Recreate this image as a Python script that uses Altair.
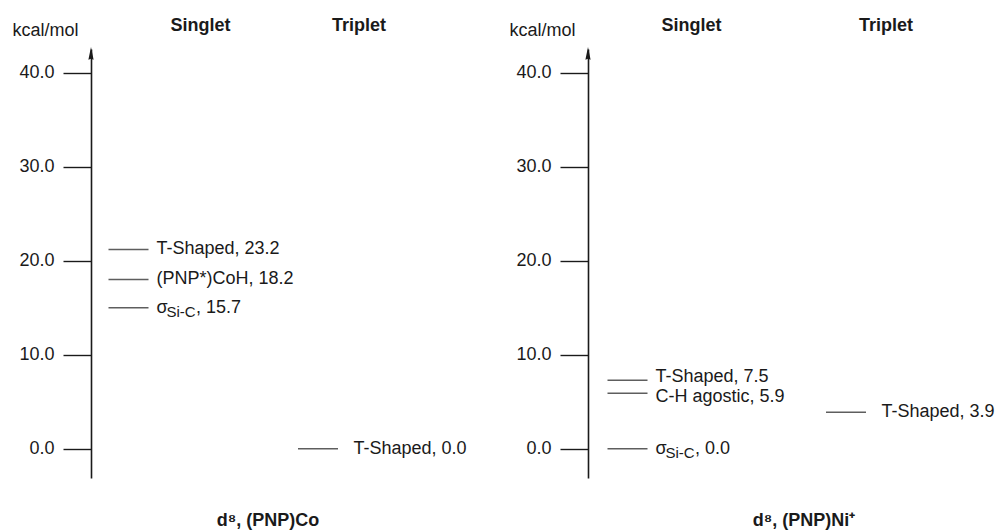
import altair as alt
import pandas as pd

# ---------------- data ----------------
states = ["Singlet", "Triplet"]
y_ticks = [0, 10, 20, 30, 40]

# (PNP)Co panel: drawn level heights (kcal/mol) and their labels
co_state = ["Singlet", "Singlet", "Singlet", "Triplet"]
co_energy = [21.2, 18.0, 15.0, 0.0]
co_name = ["\u00a0T-Shaped, 23.2", "(PNP*)CoH, 18.2", "σ", "T-Shaped, 0.0"]
co_sub = ["", "", "Si-C", ""]
co_tail = ["", "", ", 15.7", ""]

# (PNP)Ni+ panel
ni_state = ["Singlet", "Singlet", "Singlet", "Triplet"]
ni_energy = [7.3, 5.9, 0.0, 3.9]
ni_name = ["T-Shaped, 7.5", "C-H agostic, 5.9", "σ", "T-Shaped, 3.9"]
ni_sub = ["", "", "Si-C", ""]
ni_tail = ["", "", ", 0.0", ""]

panel_titles = ["d⁸, (PNP)Co", "d⁸, (PNP)Ni⁺"]
unit_label = "kcal/mol"

# ---------------- style ----------------
FONT = "Liberation Sans"
INK = "#1a1a1a"
FS = 18
Y_DOMAIN = [-3.1, 42.5]
H = 429
# small vertical nudges of crowded labels (pixels)
LABEL_NUDGE = {"T-Shaped, 7.5": -3, "C-H agostic, 5.9": 4}


def panel(state, energy, name, sub, tail, title, xrange, width, title_dx, hdr_dx):
    df = pd.DataFrame({"state": state, "energy": energy, "name": name,
                       "sub": sub, "tail": tail})
    x = alt.X("state:N",
              scale=alt.Scale(type="point", domain=states, range=xrange, padding=0),
              axis=None)
    y = alt.Y("energy:Q",
              scale=alt.Scale(domain=Y_DOMAIN, nice=False, zero=False),
              axis=alt.Axis(values=y_ticks, format=".1f", grid=False,
                            domainColor=INK, domainWidth=1.6,
                            tickColor=INK, tickWidth=1.4, tickSize=28,
                            labelPadding=9, labelFont=FONT, labelFontSize=FS,
                            labelColor=INK,
                            title=unit_label, titleAngle=0, titleX=-79, titleY=-14,
                            titleAlign="left", titleBaseline="alphabetic",
                            titleFont=FONT, titleFontSize=FS,
                            titleFontWeight="normal", titleColor=INK))
    base = alt.Chart(df)
    lines = base.mark_tick(orient="horizontal", size=40, thickness=1.5,
                           color=INK).encode(x=x, y=y)
    layers = [lines]
    nudged = list(LABEL_NUDGE.keys())
    txt = dict(font=FONT, color=INK, baseline="middle", align="left")
    for st, dx in (("Singlet", 28), ("Triplet", 35.5)):
        part = base.transform_filter(alt.datum.state == st)
        plain = part.transform_filter(~alt.FieldOneOfPredicate(field="name", oneOf=nudged))
        layers.append(plain.mark_text(dx=dx, fontSize=FS, **txt)
                      .encode(x=x, y=y, text="name:N"))
        for nm, ndy in LABEL_NUDGE.items():
            layers.append(part.transform_filter(alt.datum.name == nm)
                          .mark_text(dx=dx, dy=ndy, fontSize=FS, **txt)
                          .encode(x=x, y=y, text="name:N"))
        layers.append(part.mark_text(dx=dx + 10, dy=4, fontSize=15, **txt)
                      .encode(x=x, y=y, text="sub:N"))
        layers.append(part.mark_text(dx=dx + 39.5, fontSize=FS, **txt)
                      .encode(x=x, y=y, text="tail:N"))
    hdr = alt.Chart(pd.DataFrame({"state": states}))
    for st, dx in zip(states, hdr_dx):
        layers.append(hdr.transform_filter(alt.datum.state == st)
                      .mark_text(dx=dx, font=FONT, fontSize=FS, fontWeight="bold",
                                 color=INK, baseline="alphabetic", align="center")
                      .encode(x=x, y=alt.value(-18), text="state:N"))
    arrow = alt.Chart(pd.DataFrame({"top": [Y_DOMAIN[1]]})).mark_point(
        shape="M0,-1L0.32,0.6L0,0.45L-0.32,0.6Z", filled=True, size=264,
        color=INK, opacity=1, strokeWidth=0).encode(x=alt.value(0), y=alt.value(6))
    layers.append(arrow)
    return alt.layer(*layers).properties(
        width=width, height=H,
        title=alt.TitleParams(title, orient="bottom", frame="group", dx=title_dx,
                              offset=48, baseline="alphabetic", font=FONT,
                              fontSize=FS, fontWeight="bold", color=INK))


left = panel(co_state, co_energy, co_name, co_sub, co_tail, panel_titles[0],
             [37.5, 227], 411, -28.5, [72, 41])
right = panel(ni_state, ni_energy, ni_name, ni_sub, ni_tail, panel_titles[1],
              [39.5, 258], 400, 16, [64, 40])

chart = alt.hconcat(left, right, spacing=7).properties(
    padding={"left": 12, "top": 17, "right": 0, "bottom": 0}
).configure_view(strokeWidth=0)

chart.save("out.html", embed_options={"renderer": "svg", "actions": False})
